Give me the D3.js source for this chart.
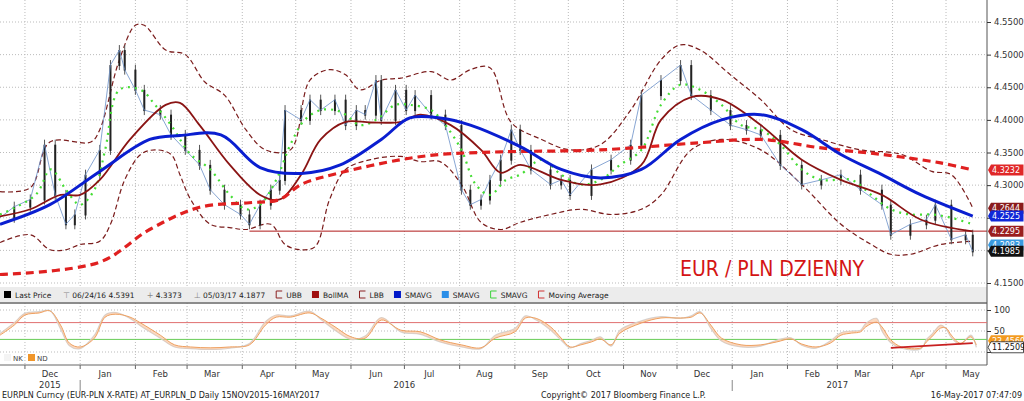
<!DOCTYPE html>
<html><head><meta charset="utf-8">
<script src="https://cdn.jsdelivr.net/npm/d3@7"></script>
<style>body{margin:0;background:#fff}text{font-family:"DejaVu Sans",sans-serif}</style>
</head><body><svg id="c" width="1024" height="401"></svg>
<script>
// day offsets from 17 Nov 2015 and read values
var priceDays = [0,8,17,25,31,37,42,48,56,62,67,70,76,81,90,96,104,112,118,126,135,140,146,152,157,160,169,174,180,188,194,200,205,211,214,222,228,233,242,250,259,264,270,275,281,287,292,298,309,315,320,332,343,354,360,371,382,388,399,410,419,427,438,450,461,472,483,495,500,511,520,525,534,542,546];
var priceVals = [4.250,4.267,4.278,4.362,4.285,4.240,4.255,4.316,4.354,4.484,4.507,4.477,4.446,4.415,4.408,4.377,4.354,4.331,4.293,4.270,4.255,4.240,4.270,4.293,4.308,4.415,4.400,4.431,4.415,4.431,4.392,4.415,4.408,4.461,4.400,4.446,4.415,4.438,4.408,4.392,4.293,4.270,4.278,4.308,4.339,4.385,4.354,4.324,4.301,4.308,4.285,4.324,4.339,4.362,4.438,4.461,4.484,4.438,4.415,4.392,4.385,4.377,4.331,4.301,4.308,4.316,4.293,4.270,4.224,4.240,4.247,4.270,4.217,4.224,4.1985];

var smaBlueDays = [0,28,56,84,101,124,146,169,191,214,230,247,264,292,315,337,360,382,405,427,450,472,495,517,546];
var smaBlueVals = [4.240,4.270,4.321,4.370,4.376,4.377,4.327,4.318,4.331,4.370,4.403,4.403,4.392,4.359,4.324,4.311,4.324,4.370,4.400,4.408,4.385,4.347,4.316,4.285,4.2525];

var sma200Days = [0,56,84,112,140,157,169,191,225,247,281,337,393,427,461,495,528,546];
var sma200Vals = [4.163,4.182,4.232,4.266,4.273,4.278,4.301,4.319,4.339,4.347,4.351,4.354,4.365,4.370,4.357,4.347,4.334,4.3232];

var bollDays = [0,17,34,45,56,73,93,101,112,129,146,157,169,180,194,208,225,236,253,270,281,292,315,337,360,371,388,405,427,450,472,495,517,546];
var bollVals = [4.252,4.263,4.285,4.285,4.308,4.370,4.423,4.426,4.392,4.331,4.285,4.278,4.316,4.370,4.397,4.396,4.397,4.408,4.392,4.354,4.319,4.331,4.308,4.301,4.331,4.400,4.435,4.431,4.392,4.339,4.308,4.285,4.247,4.229];

var ubbDays = [0,17,28,51,56,67,76,81,93,104,115,126,138,149,163,174,185,194,202,214,225,242,253,264,275,287,304,320,337,354,371,382,393,410,427,444,461,483,506,523,534,546];
var ubbVals = [4.290,4.296,4.366,4.366,4.385,4.492,4.545,4.545,4.507,4.500,4.458,4.438,4.385,4.354,4.354,4.461,4.477,4.469,4.446,4.461,4.464,4.474,4.461,4.477,4.480,4.396,4.370,4.354,4.362,4.415,4.492,4.515,4.507,4.469,4.431,4.385,4.370,4.354,4.347,4.321,4.316,4.265];

var lbbDays = [0,17,28,37,45,56,62,70,79,87,96,101,107,118,129,138,152,160,169,177,185,194,208,225,236,247,259,270,281,292,309,326,343,360,371,388,405,427,450,472,489,500,511,528,546];
var lbbVals = [4.212,4.224,4.201,4.201,4.209,4.214,4.240,4.308,4.347,4.354,4.347,4.316,4.278,4.240,4.235,4.232,4.240,4.209,4.201,4.206,4.278,4.324,4.339,4.344,4.336,4.336,4.301,4.243,4.232,4.243,4.255,4.263,4.255,4.263,4.285,4.354,4.370,4.354,4.301,4.240,4.209,4.194,4.194,4.209,4.214];

var smaGreenDays = [0,20,28,31,37,45,53,59,67,79,87,96,107,118,129,138,146,155,163,171,180,188,194,202,211,222,230,242,250,259,267,275,284,292,304,315,326,337,348,360,371,382,393,405,416,427,438,450,461,478,489,500,511,523,534,546];
var smaGreenVals = [4.255,4.285,4.324,4.319,4.293,4.270,4.293,4.354,4.446,4.446,4.423,4.392,4.347,4.324,4.285,4.263,4.270,4.308,4.362,4.400,4.415,4.415,4.408,4.392,4.400,4.423,4.423,4.415,4.392,4.354,4.301,4.285,4.308,4.316,4.339,4.316,4.301,4.308,4.331,4.354,4.423,4.454,4.446,4.423,4.392,4.385,4.362,4.324,4.308,4.308,4.285,4.263,4.255,4.255,4.250,4.240];

var oscDays = [0,8,14,22,28,34,39,45,53,59,65,73,79,90,98,107,118,129,140,149,155,163,174,180,188,197,205,214,225,236,247,259,270,278,289,295,301,309,315,320,326,332,337,343,348,360,371,382,388,393,399,405,416,427,436,444,450,458,466,472,478,483,486,492,495,500,506,517,520,523,528,531,534,539,545,548];
var ndVals = [40,64,88,93,98,64,21,12,33,83,90,83,69,40,17,12,10,12,17,64,83,83,93,81,60,36,33,76,52,48,29,17,10,33,48,81,80,60,33,12,17,24,31,17,45,69,81,81,83,93,64,33,17,17,24,31,19,12,21,40,45,48,60,71,60,29,12,10,24,36,57,57,40,21,36,17];
var nkVals = [44,70,92,96,99,55,15,8,40,88,94,80,62,33,12,8,6,9,20,72,88,86,97,78,52,30,38,82,48,42,24,12,8,40,56,86,76,52,28,10,20,28,36,14,52,74,84,80,86,96,56,26,12,14,28,34,16,9,26,46,50,52,68,80,50,22,9,8,30,42,64,55,34,18,40,11.25];

var monthLabels = ["Dec","Jan","Feb","Mar","Apr","May","Jun","Jul","Aug","Sep","Oct","Nov","Dec","Jan","Feb","Mar","Apr","May"];
var yearLabels = ["2015","2016","2017"];
var priceTicks = [4.15,4.20,4.25,4.30,4.35,4.40,4.45,4.50,4.55];
var priceTickShown = [4.15,4.30,4.35,4.40,4.45,4.50,4.55];
var oscTicks = [100,50,0];
var legendItems = [["Last Price","#000","box"],["06/24/16 4.5391","#888","hi"],["4.3373","#888","avg"],["05/03/17 4.1877","#888","lo"],["UBB","#8b2020","dash"],["BollMA","#a01010","box"],["LBB","#8b2020","dash"],["SMAVG","#0018c8","box"],["SMAVG","#2a8ee8","box"],["SMAVG","#3ad23a","dash"],["Moving Average","#d03030","dash"]];
var badges = [[4.3232,"#e02828","#fff"],[4.2644,"#8a1c1c","#fff"],[4.2525,"#1028d8","#fff"],[4.2295,"#9a1e1e","#fff"],[4.2083,"#3a9ae0","#fff"],[4.1985,"#111","#fff"]];

var svg = d3.select("#c");
var t0 = new Date(2015,10,17);
var day = function(d){ return d3.timeDay.offset(t0, d); };
var x = d3.scaleTime().domain([t0, new Date(2017,4,24)]).range([0,987]);
var y = d3.scaleLinear().domain([4.15,4.55]).range([283,22]);
var yo = d3.scaleLinear().domain([0,100]).range([352,310]);
var R = 987;

// grid
var months = d3.timeMonth.range(new Date(2015,11,1), new Date(2017,5,1));
svg.append("g").selectAll("line").data(months).join("line")
  .attr("x1",d=>x(d)).attr("x2",d=>x(d)).attr("y1",0).attr("y2",365)
  .attr("stroke","#bbb").attr("stroke-dasharray","1,2");
svg.append("g").selectAll("line").data(priceTicks).join("line")
  .attr("x1",0).attr("x2",R).attr("y1",d=>y(d)).attr("y2",d=>y(d))
  .attr("stroke","#bbb").attr("stroke-dasharray","1,2");
svg.append("g").selectAll("line").data(oscTicks).join("line")
  .attr("x1",0).attr("x2",R).attr("y1",d=>yo(d)).attr("y2",d=>yo(d))
  .attr("stroke","#bbb").attr("stroke-dasharray","1,2");

function series(days, vals, ys){
  return days.map((d,i)=>[x(day(d)), ys(vals[i])]);
}
var line = d3.line().curve(d3.curveCatmullRom.alpha(0.5));
function draw(days, vals, color, w, dash, ys){
  svg.append("path").attr("d", line(series(days, vals, ys||y)))
    .attr("fill","none").attr("stroke",color).attr("stroke-width",w)
    .attr("stroke-dasharray",dash||null);
}

// support line
svg.append("line").attr("x1",x(day(140))).attr("x2",R).attr("y1",y(4.2295)).attr("y2",y(4.2295))
  .attr("stroke","#b01818").attr("stroke-width",1);

draw(ubbDays, ubbVals, "#7a1c1c", 1.2, "5,3");
draw(lbbDays, lbbVals, "#7a1c1c", 1.2, "5,3");

// candles: body between consecutive closes, small wick
var pts = series(priceDays, priceVals, y);
svg.append("g").selectAll("line").data(pts.slice(1)).join("line")
  .attr("x1",d=>d[0]).attr("x2",d=>d[0])
  .attr("y1",(d,i)=>Math.min(d[1],pts[i][1])-5)
  .attr("y2",(d,i)=>Math.max(d[1],pts[i][1])+5)
  .attr("stroke","#555").attr("stroke-width",1);
svg.append("g").selectAll("rect").data(pts.slice(1)).join("rect")
  .attr("x",d=>d[0]-1).attr("width",2)
  .attr("y",(d,i)=>Math.min(d[1],pts[i][1]))
  .attr("height",(d,i)=>Math.abs(d[1]-pts[i][1])+1)
  .attr("fill","#222");
svg.append("path").attr("d", d3.line()(pts)).attr("fill","none").attr("stroke","#6a8fc8").attr("stroke-width",0.8);

draw(smaGreenDays, smaGreenVals, "#44dd33", 2.2, "2,5");
draw(bollDays, bollVals, "#8a1414", 1.8);
draw(sma200Days, sma200Vals, "#e02020", 3.2, "8,5");
draw(smaBlueDays, smaBlueVals, "#0a1ed0", 3);

svg.append("text").attr("x",680).attr("y",276).attr("fill","#d41414")
  .style("font-family","'Liberation Sans Narrow','DejaVu Sans Condensed',sans-serif").style("font-size","21px")
  .text("EUR / PLN DZIENNY");

// legend bar
svg.append("rect").attr("x",0).attr("y",287).attr("width",R).attr("height",15).attr("fill","#ececec");
var lx = 4;
legendItems.forEach(function(it){
  var g = svg.append("g").attr("transform","translate("+lx+",295)");
  if(it[2]=="box") g.append("rect").attr("x",0).attr("y",-4).attr("width",7).attr("height",7).attr("fill",it[1]);
  else if(it[2]=="dash") g.append("path").attr("d","M7,-4H1V3H7").attr("fill","none").attr("stroke",it[1]);
  else g.append("text").attr("x",2).attr("y",3).style("font-size","8px").attr("fill",it[1]).text(it[2]=="hi"?"⊤":it[2]=="lo"?"⊥":"+");
  var tx = g.append("text").attr("x",11).attr("y",3).style("font-size","7.5px").attr("fill","#222").text(it[0]);
  lx += 11 + tx.node().getComputedTextLength() + 10;
});

// separators
svg.append("line").attr("x1",0).attr("x2",R).attr("y1",303).attr("y2",303).attr("stroke","#666").attr("stroke-width",1.5);
svg.append("line").attr("x1",0).attr("x2",R).attr("y1",365).attr("y2",365).attr("stroke","#666");
svg.append("line").attr("x1",R).attr("x2",R).attr("y1",0).attr("y2",365).attr("stroke","#555");

// oscillator
svg.append("line").attr("x1",0).attr("x2",R).attr("y1",yo(70)).attr("y2",yo(70)).attr("stroke","#e07070");
svg.append("line").attr("x1",0).attr("x2",R).attr("y1",yo(30)).attr("y2",yo(30)).attr("stroke","#66cc55");
draw(oscDays, nkVals, "#d4d4d4", 1.2, null, yo);
var nd = series(oscDays, ndVals, yo), nk = series(oscDays, nkVals, yo);
svg.append("path").attr("d", d3.area().curve(d3.curveCatmullRom).x(d=>d[0]).y0((d,i)=>nk[i][1]).y1(d=>d[1])(nd))
  .attr("fill","#f8c098").attr("opacity",0.6);
draw(oscDays, ndVals, "#eea060", 1, null, yo);
svg.append("line").attr("x1",x(day(500))).attr("x2",x(day(546))).attr("y1",yo(10)).attr("y2",yo(21))
  .attr("stroke","#c82020").attr("stroke-width",1.8);
svg.append("rect").attr("x",4).attr("y",354).attr("width",7).attr("height",7).attr("fill","#f4f4f4");
svg.append("text").attr("x",13).attr("y",361).style("font-size","7px").attr("fill","#444").text("NK");
svg.append("rect").attr("x",28).attr("y",354).attr("width",7).attr("height",7).attr("fill","#f0962a");
svg.append("text").attr("x",37).attr("y",361).style("font-size","7px").attr("fill","#444").text("ND");

// right axes
var axR = d3.axisRight(y).tickValues(priceTicks).tickFormat(d=>priceTickShown.indexOf(d)>=0?d3.format(".4f")(d):"").tickSize(4);
var gR = svg.append("g").attr("transform","translate("+R+",0)").call(axR);
var axO = d3.axisRight(yo).tickValues(oscTicks).tickFormat(d=>d?d:"").tickSize(4);
var gO = svg.append("g").attr("transform","translate("+R+",0)").call(axO);
[gR,gO].forEach(g=>{g.select(".domain").remove();g.selectAll("text").style("font-size","8.5px").attr("fill","#333");g.selectAll("line").attr("stroke","#333");});

function badge(yy, fill, txtCol, label, stroke){
  svg.append("path").attr("d","M"+(R+1)+","+yy+"l3,-5.5h32.5v11h-32.5z").attr("fill",fill)
    .attr("stroke",stroke||"none").attr("stroke-width",0.8);
  svg.append("text").attr("x",R+5).attr("y",yy+3).style("font-size","8px").attr("fill",txtCol).text(label);
}
badges.forEach(b=>badge(y(b[0]), b[1], b[2], b[0].toFixed(4)));
badge(yo(27), "#f29a20", "#fff", "23.4560");
badge(yo(11.25), "#fff", "#111", "11.2509", "#222");

// bottom axis
var mids = months.slice(0,18).map(m=>d3.timeDay.offset(m,14));
svg.append("g").selectAll("text").data(mids).join("text")
  .attr("x",d=>x(d)).attr("y",377).attr("text-anchor","middle").style("font-size","8.5px").attr("fill","#333")
  .text((d,i)=>monthLabels[i]);
svg.append("g").selectAll("line").data(months).join("line")
  .attr("x1",d=>x(d)).attr("x2",d=>x(d)).attr("y1",365).attr("y2",369).attr("stroke","#666");
var yearPos = [new Date(2015,11,15), new Date(2016,6,1), new Date(2017,2,1)];
svg.append("g").selectAll("text").data(yearPos).join("text")
  .attr("x",d=>x(d)).attr("y",388).attr("text-anchor","middle").style("font-size","8.5px").attr("fill","#333")
  .text((d,i)=>yearLabels[i]);
[new Date(2016,0,1), new Date(2017,0,1)].forEach(function(d){
  svg.append("line").attr("x1",x(d)).attr("x2",x(d)).attr("y1",380).attr("y2",391).attr("stroke","#888");
});
svg.append("text").attr("x",2).attr("y",398).style("font-size","8px").attr("fill","#222")
  .text("EURPLN Curncy (EUR-PLN X-RATE) AT_EURPLN_D  Daily 15NOV2015-16MAY2017");
svg.append("text").attr("x",541).attr("y",398).style("font-size","8px").attr("fill","#222")
  .text("Copyright© 2017 Bloomberg Finance L.P.");
svg.append("text").attr("x",1022).attr("y",398).attr("text-anchor","end").style("font-size","8px").attr("fill","#222")
  .text("16-May-2017 07:47:09");
</script></body></html>
